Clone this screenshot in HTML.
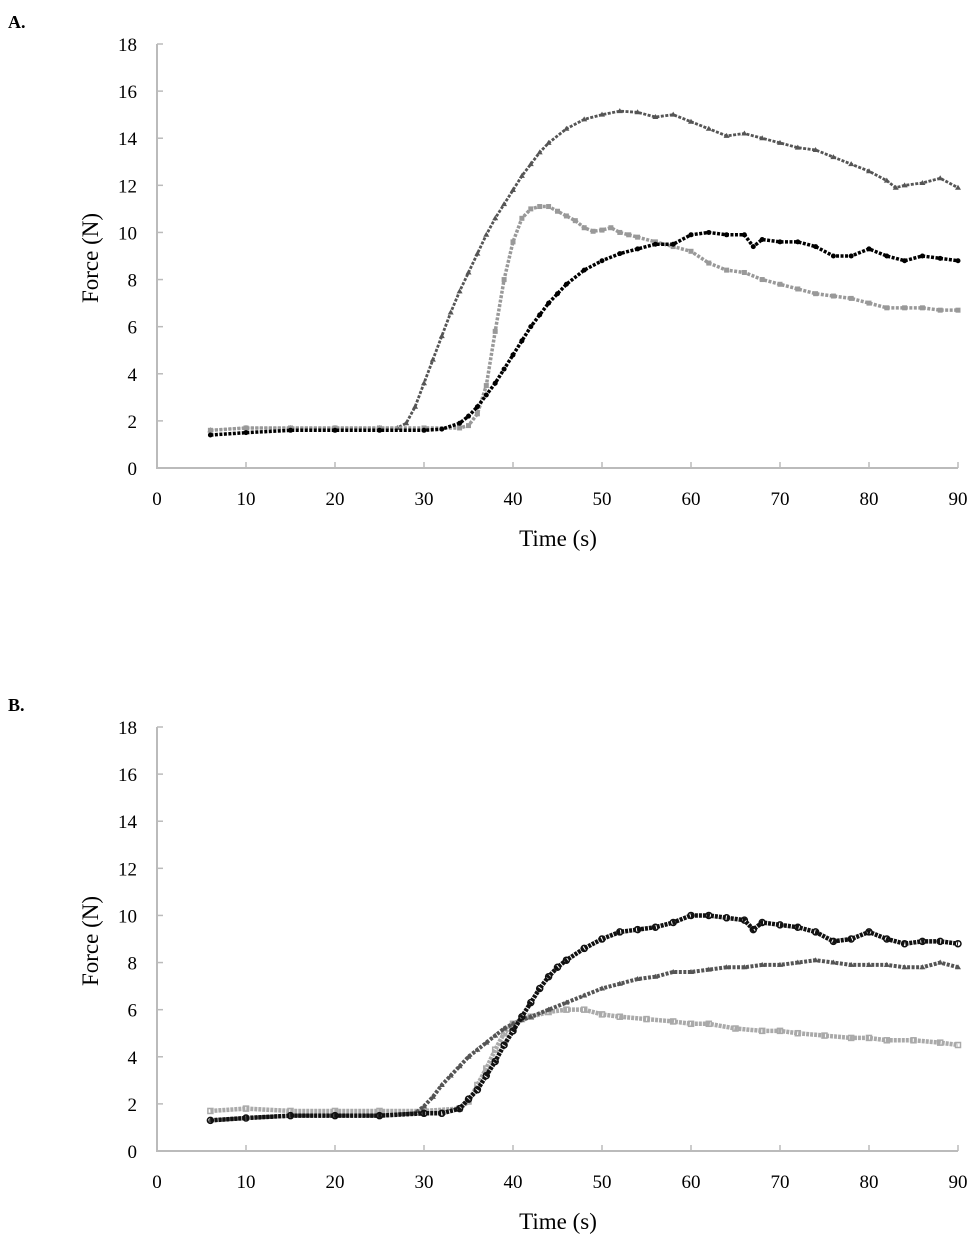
<!DOCTYPE html>
<html><head><meta charset="utf-8"><style>
html,body{margin:0;padding:0;background:#fff;}
svg{display:block;font-family:"Liberation Serif",serif;}
</style></head><body>
<svg id="fig" width="979" height="1242" viewBox="0 0 979 1242"></svg>
<script>
// ---- Panel A data ----
const triA_t=[6,10,15,20,25,27,28,29,30,31,32,33,34,35,36,37,38,39,40,41,42,43,44,46,48,50,52,54,56,58,60,62,64,66,68,70,72,74,76,78,80,82,83,84,86,88,90];
const triA_v=[1.6,1.7,1.7,1.7,1.7,1.7,1.9,2.6,3.6,4.6,5.6,6.6,7.5,8.3,9.1,9.9,10.6,11.2,11.8,12.4,12.9,13.4,13.8,14.4,14.8,15.0,15.15,15.1,14.9,15.0,14.7,14.4,14.1,14.2,14.0,13.8,13.6,13.5,13.2,12.9,12.6,12.2,11.9,12.0,12.1,12.3,11.9];
const sqA_t=[6,10,15,20,25,30,34,35,36,37,38,39,40,41,42,43,44,45,46,47,48,49,50,51,52,53,54,56,58,60,62,64,66,68,70,72,74,76,78,80,82,84,86,88,90];
const sqA_v=[1.6,1.7,1.7,1.7,1.7,1.7,1.7,1.8,2.3,3.5,5.8,8.0,9.6,10.6,11.0,11.1,11.1,10.9,10.7,10.5,10.2,10.05,10.1,10.2,10.0,9.9,9.8,9.6,9.4,9.2,8.7,8.4,8.3,8.0,7.8,7.6,7.4,7.3,7.2,7.0,6.8,6.8,6.8,6.7,6.7];
const cirA_t=[6,10,15,20,25,30,32,34,35,36,37,38,39,40,41,42,43,44,45,46,48,50,52,54,56,58,60,62,64,66,67,68,70,72,74,76,78,80,82,84,86,88,90];
const cirA_v=[1.4,1.5,1.6,1.6,1.6,1.6,1.65,1.9,2.2,2.6,3.1,3.6,4.2,4.8,5.4,6.0,6.5,7.0,7.4,7.8,8.4,8.8,9.1,9.3,9.5,9.5,9.9,10.0,9.9,9.9,9.4,9.7,9.6,9.6,9.4,9.0,9.0,9.3,9.0,8.8,9.0,8.9,8.8];
// ---- Panel B data ----
const cirB_t=[6,10,15,20,25,30,32,34,35,36,37,38,39,40,41,42,43,44,45,46,48,50,52,54,56,58,60,62,64,66,67,68,70,72,74,76,78,80,82,84,86,88,90];
const cirB_v=[1.3,1.4,1.5,1.5,1.5,1.6,1.6,1.8,2.2,2.6,3.2,3.8,4.5,5.1,5.7,6.3,6.9,7.4,7.8,8.1,8.6,9.0,9.3,9.4,9.5,9.7,10.0,10.0,9.9,9.8,9.4,9.7,9.6,9.5,9.3,8.9,9.0,9.3,9.0,8.8,8.9,8.9,8.8];
const triB_t=[6,10,15,20,25,29,30,31,32,33,34,35,36,37,38,39,40,42,44,46,48,50,52,54,56,58,60,62,64,66,68,70,72,74,76,78,80,82,84,86,88,90];
const triB_v=[1.3,1.4,1.5,1.5,1.5,1.6,1.9,2.3,2.8,3.2,3.6,4.0,4.3,4.6,4.9,5.2,5.4,5.7,6.0,6.3,6.6,6.9,7.1,7.3,7.4,7.6,7.6,7.7,7.8,7.8,7.9,7.9,8.0,8.1,8.0,7.9,7.9,7.9,7.8,7.8,8.0,7.8];
const sqB_t=[6,10,15,20,25,30,34,35,36,37,38,39,40,41,42,44,46,48,50,52,55,58,60,62,65,68,70,72,75,78,80,82,85,88,90];
const sqB_v=[1.7,1.8,1.7,1.7,1.7,1.7,1.8,2.1,2.8,3.5,4.3,5.0,5.4,5.6,5.7,5.9,6.0,6.0,5.8,5.7,5.6,5.5,5.4,5.4,5.2,5.1,5.1,5.0,4.9,4.8,4.8,4.7,4.7,4.6,4.5];
const xTicks=[0,10,20,30,40,50,60,70,80,90];
const yTicks=[0,2,4,6,8,10,12,14,16,18];

const NS="http://www.w3.org/2000/svg";
const svg=document.getElementById('fig');
function mk(tag,attrs,parent){const e=document.createElementNS(NS,tag);for(const k in attrs)e.setAttribute(k,attrs[k]);(parent||svg).appendChild(e);return e;}

function panel(label,y0,series,key){
  const X0=157,X1=958,Y0=y0,Y1=y0-424;
  const sx=t=>X0+(t/90)*(X1-X0);
  const sy=v=>Y0-(v/18)*(Y0-Y1);
  const g=mk('g',{});
  
  
  const pl=mk('text',{x:8,y:y0-440,'font-size':18,'font-weight':'bold'},g);pl.textContent=label;
  
  
  const ax=mk('path',{d:`M${X0},${Y1} V${Y0} H${X1}`,stroke:'#bbb','stroke-width':2,fill:'none'},g);
  
  
  yTicks.forEach(v=>{
    mk('line',{x1:X0,x2:X0+6,y1:sy(v),y2:sy(v),stroke:'#bbb','stroke-width':1.5},g);
    const t=mk('text',{x:137,y:sy(v)+7,'font-size':19,'text-anchor':'end'},g);t.textContent=v;
    
    
  });
  xTicks.forEach(v=>{
    mk('line',{x1:sx(v),x2:sx(v),y1:Y0,y2:Y0-6,stroke:'#bbb','stroke-width':1.5},g);
    const t=mk('text',{x:sx(v),y:Y0+37,'font-size':19,'text-anchor':'middle'},g);t.textContent=v;
    
    
  });
  const xt=mk('text',{x:558,y:Y0+78,'font-size':23,'text-anchor':'middle'},g);xt.textContent='Time (s)';
  
  
  const yt=mk('text',{x:0,y:0,'font-size':23,'text-anchor':'middle',transform:`translate(98,${Y0-210}) rotate(-90)`},g);yt.textContent='Force (N)';
  
  
  series.forEach(s=>{
    const sg=mk('g',{},g);
    
    
    const pts=s.t.map((t,i)=>[sx(t),sy(s.v[i])]);
    mk('polyline',{points:pts.map(p=>p.join(',')).join(' '),fill:'none',stroke:s.c,'stroke-width':s.w||3.5,'stroke-dasharray':s.open?'3 1':'3 1.5'},sg);
    pts.forEach(p=>{
      let m;
      if(s.m==='tri') m=mk('path',{d:`M${p[0]},${p[1]-3} l3,5 h-6 z`,fill:s.c},sg);
      else if(s.m==='sq') m=mk('rect',{x:p[0]-2.5,y:p[1]-2.5,width:5,height:5,fill:s.open?'none':s.c,stroke:s.c,'stroke-width':s.open?1.5:0},sg);
      else m=mk('circle',{cx:p[0],cy:p[1],r:s.open?3:2.5,fill:s.open?'none':s.c,stroke:s.c,'stroke-width':s.open?1.5:0},sg);
      
      
    });
  });
}
panel('A.',468,[
  {name:'triangles',t:triA_t,v:triA_v,c:'#555',m:'tri',w:2.8},
  {name:'squares',t:sqA_t,v:sqA_v,c:'#999',m:'sq'},
  {name:'circles',t:cirA_t,v:cirA_v,c:'#000',m:'cir'}
],'a');
panel('B.',1151,[
  {name:'squares',t:sqB_t,v:sqB_v,c:'#aaa',m:'sq',open:true,w:4.5},
  {name:'triangles',t:triB_t,v:triB_v,c:'#555',m:'tri',w:4},
  {name:'circles',t:cirB_t,v:cirB_v,c:'#111',m:'cir',open:true,w:4.5}
],'b');
</script>
</body></html>
